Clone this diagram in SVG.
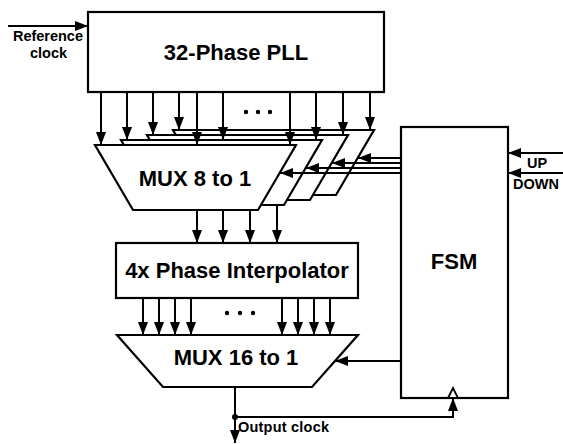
<svg xmlns="http://www.w3.org/2000/svg" width="563" height="444" viewBox="0 0 563 444">
<defs>
<style>
.box{fill:#fff;stroke:#000;stroke-width:2.2}
.ln{fill:none;stroke:#000;stroke-width:2}
.big{font-family:"Liberation Sans",Arial,sans-serif;font-weight:bold;font-size:22px;fill:#000;text-anchor:middle}
.sm{font-family:"Liberation Sans",Arial,sans-serif;font-weight:bold;font-size:14.5px;fill:#000}
.dot{fill:#000}
</style>
<marker id="ah" viewBox="0 0 13 10" refX="13" refY="5" markerWidth="13" markerHeight="10" orient="auto" markerUnits="userSpaceOnUse"><path d="M0,0 L13,5 L0,10 z" fill="#000"/></marker>
</defs>
<rect x="0" y="0" width="563" height="444" fill="#fff"/>

<g id="pll">
<rect class="box" x="88" y="12" width="296" height="80"/>
<text class="big" x="236" y="60">32-Phase PLL</text>
</g>

<g id="mux8">
<polygon class="box" points="173,130 374,130 336,195 211,195"/>
<polygon class="box" points="147,135 348,135 310,200 185,200"/>
<polygon class="box" points="121,140 322,140 284,205 159,205"/>
<polygon class="box" points="95,145 296,145 258,210 133,210"/>
<text class="big" x="195" y="186">MUX 8 to 1</text>
</g>

<g id="pi">
<rect class="box" x="116" y="243" width="242" height="55"/>
<text class="big" x="237" y="278">4x Phase Interpolator</text>
</g>

<g id="mux16">
<polygon class="box" points="117,335 358,335 312,387 163,387"/>
<text class="big" x="236" y="365">MUX 16 to 1</text>
</g>

<g id="fsm">
<rect class="box" x="401" y="127" width="107" height="271"/>
<text class="big" x="454" y="269">FSM</text>
<polygon fill="#fff" stroke="#000" stroke-width="1.8" points="448,398 453,388 458,398"/>
</g>

<g id="labels">
<text class="sm" x="13" y="41" textLength="70">Reference</text>
<text class="sm" x="30" y="58">clock</text>
<text class="sm" x="527" y="168">UP</text>
<text class="sm" x="513" y="189">DOWN</text>
<text class="sm" x="238" y="432" font-weight="normal" font-size="15.5" textLength="91">Output clock</text>
</g>

<g id="connectors">
<line class="ln" x1="8" y1="26" x2="88" y2="26" marker-end="url(#ah)"/>
<line class="ln" x1="101" y1="92" x2="101" y2="145" marker-end="url(#ah)"/>
<line class="ln" x1="127" y1="92" x2="127" y2="140" marker-end="url(#ah)"/>
<line class="ln" x1="153" y1="92" x2="153" y2="135" marker-end="url(#ah)"/>
<line class="ln" x1="179" y1="92" x2="179" y2="130" marker-end="url(#ah)"/>
<line class="ln" x1="197" y1="92" x2="197" y2="145" marker-end="url(#ah)"/>
<line class="ln" x1="223" y1="92" x2="223" y2="140" marker-end="url(#ah)"/>
<line class="ln" x1="290" y1="92" x2="290" y2="145" marker-end="url(#ah)"/>
<line class="ln" x1="316" y1="92" x2="316" y2="140" marker-end="url(#ah)"/>
<line class="ln" x1="343" y1="92" x2="343" y2="135" marker-end="url(#ah)"/>
<line class="ln" x1="370" y1="92" x2="370" y2="130" marker-end="url(#ah)"/>
<circle class="dot" cx="246" cy="112" r="2.2"/>
<circle class="dot" cx="258" cy="112" r="2.2"/>
<circle class="dot" cx="270" cy="112" r="2.2"/>
<line class="ln" x1="401" y1="158" x2="358" y2="158" marker-end="url(#ah)"/>
<line class="ln" x1="401" y1="163" x2="332" y2="163" marker-end="url(#ah)"/>
<line class="ln" x1="401" y1="168" x2="306" y2="168" marker-end="url(#ah)"/>
<line class="ln" x1="401" y1="173" x2="280" y2="173" marker-end="url(#ah)"/>
<line class="ln" x1="563" y1="153" x2="508" y2="153" marker-end="url(#ah)"/>
<line class="ln" x1="563" y1="173" x2="508" y2="173" marker-end="url(#ah)"/>
<line class="ln" x1="197" y1="210" x2="197" y2="243" marker-end="url(#ah)"/>
<line class="ln" x1="223" y1="210" x2="223" y2="243" marker-end="url(#ah)"/>
<line class="ln" x1="250" y1="210" x2="250" y2="243" marker-end="url(#ah)"/>
<line class="ln" x1="277" y1="205" x2="277" y2="243" marker-end="url(#ah)"/>
<line class="ln" x1="143" y1="298" x2="143" y2="335" marker-end="url(#ah)"/>
<line class="ln" x1="159" y1="298" x2="159" y2="335" marker-end="url(#ah)"/>
<line class="ln" x1="175" y1="298" x2="175" y2="335" marker-end="url(#ah)"/>
<line class="ln" x1="191" y1="298" x2="191" y2="335" marker-end="url(#ah)"/>
<line class="ln" x1="282" y1="298" x2="282" y2="335" marker-end="url(#ah)"/>
<line class="ln" x1="298" y1="298" x2="298" y2="335" marker-end="url(#ah)"/>
<line class="ln" x1="314" y1="298" x2="314" y2="335" marker-end="url(#ah)"/>
<line class="ln" x1="330" y1="298" x2="330" y2="335" marker-end="url(#ah)"/>
<circle class="dot" cx="227" cy="313" r="2.2"/>
<circle class="dot" cx="240" cy="313" r="2.2"/>
<circle class="dot" cx="253" cy="313" r="2.2"/>
<line class="ln" x1="401" y1="361" x2="335" y2="361" marker-end="url(#ah)"/>
<line class="ln" x1="235" y1="387" x2="235" y2="443" marker-end="url(#ah)"/>
<circle class="dot" cx="235" cy="417" r="3"/>
<polyline class="ln" points="235,417 453,417 453,398" marker-end="url(#ah)"/>
</g>
</svg>
